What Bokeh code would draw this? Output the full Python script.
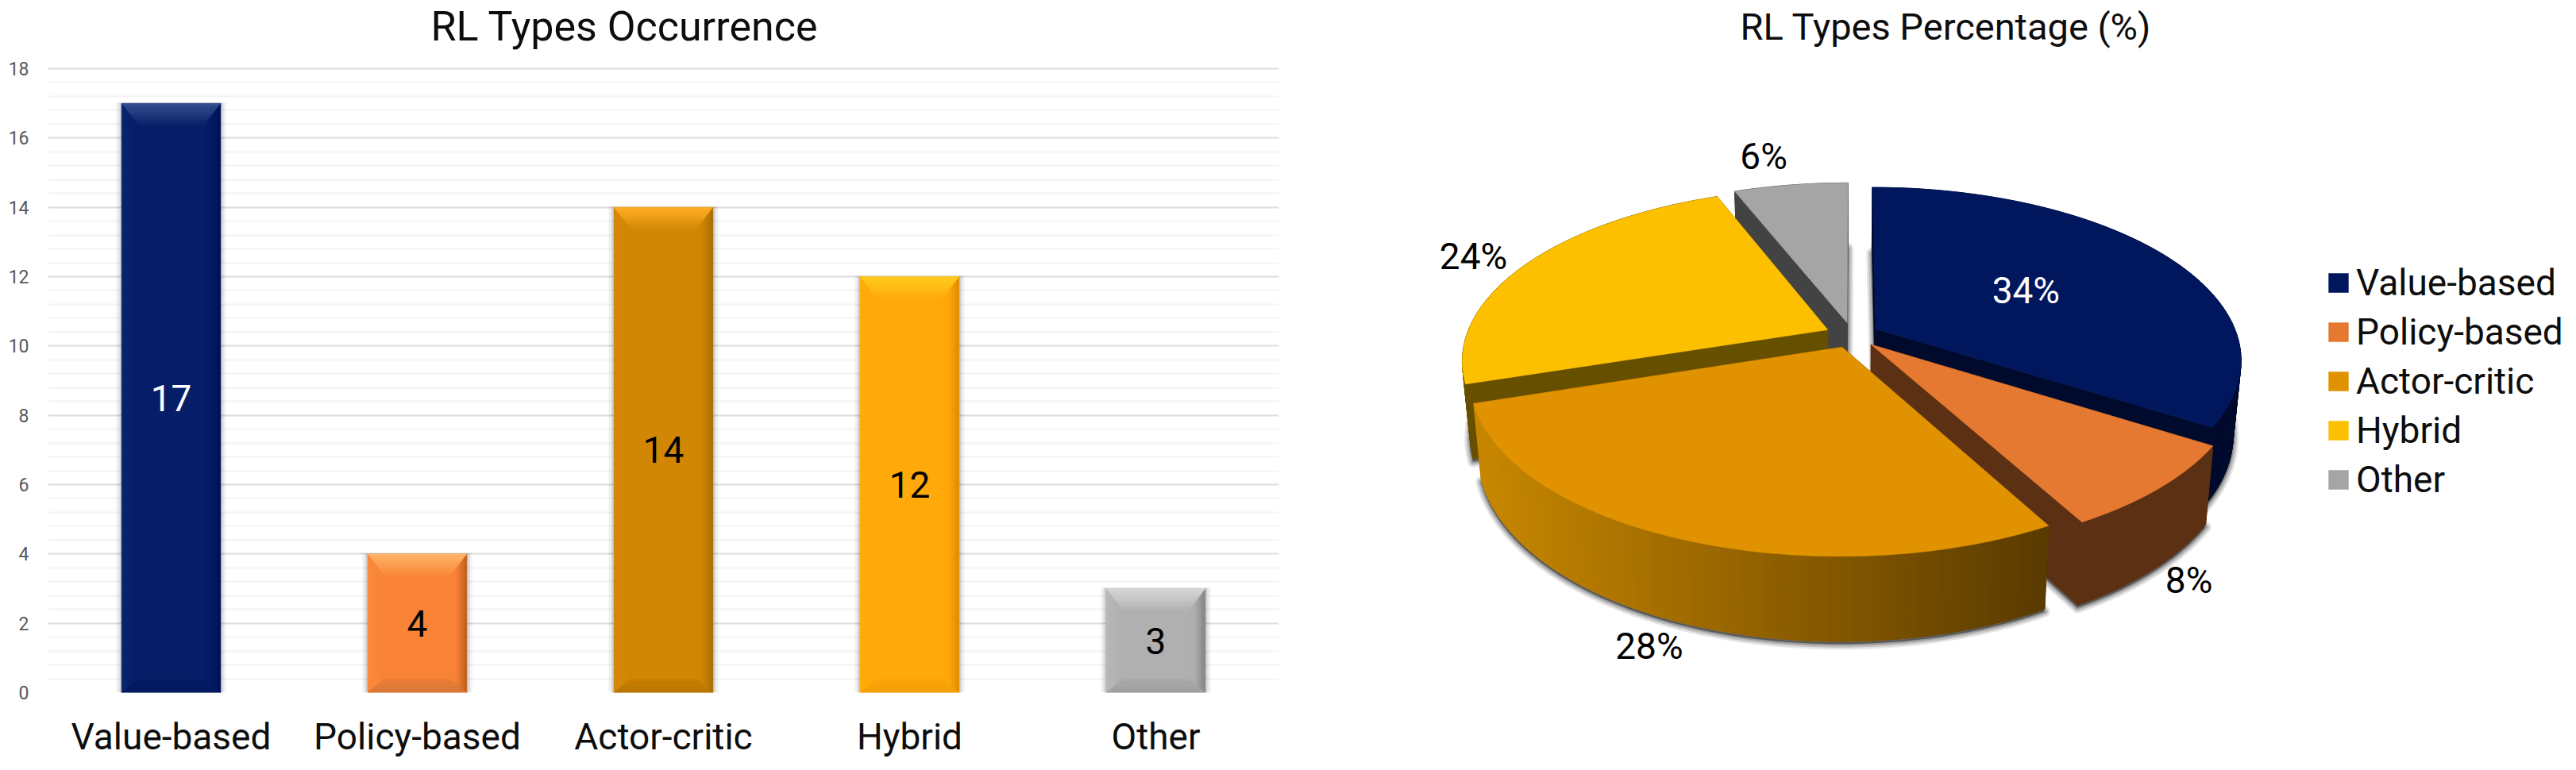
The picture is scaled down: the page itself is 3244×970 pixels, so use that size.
import math
from bokeh.core.properties import value
from bokeh.embed import file_html
from bokeh.layouts import row
from bokeh.models import FactorRange, FixedTicker, Legend, LegendItem, Range1d
from bokeh.plotting import figure
from bokeh.resources import INLINE

# ---- data -------------------------------------------------------------
categories = ["Value-based", "Policy-based", "Actor-critic", "Hybrid", "Other"]
counts = [17, 4, 14, 12, 3]
percentages = [34, 8, 28, 24, 6]
y_ticks = [0, 2, 4, 6, 8, 10, 12, 14, 16, 18]
y_max = 18
title_left = "RL Types Occurrence"
title_right = "RL Types Percentage (%)"

# ---- style ------------------------------------------------------------
FONT = "Roboto"
BIG = "46px"
bar_body = ["#061e68", "#f98437", "#d18604", "#ffa90a", "#b0b0b0"]
bar_top_hi = ["#34508f", "#ffb468", "#ffae24", "#ffcb1e", "#d6d6d6"]
bar_right = ["#001257", "#c0601f", "#a96e00", "#e08c00", "#858585"]
bar_left = ["#0b2570", "#fb8a3c", "#d58a08", "#ffad0c", "#b8b8b8"]
bar_bottom = ["#051a5e", "#d6783a", "#b87700", "#f39f08", "#a0a0a0"]
bar_label_color = ["white", "black", "black", "black", "black"]

pie_top = ["#00175e", "#e57931", "#e09200", "#fcc000", "#a5a5a5"]
pie_radial = ["#000a2c", "#5c3013", "#5a3c00", "#674f00", "#434343"]
pie_outer_start = ["#000a2c", "#5c3013", "#c88700", "#674f00", "#434343"]
pie_outer_end = ["#000a2c", "#5c3013", "#5a3b00", "#674f00", "#434343"]
label_colors = ["white", "black", "black", "black", "black"]
label_theta = [61.1, 147.4, 196.9, 294.0, 347.0]
label_radius = [0.576, 1.38, 1.462, 1.249, 1.334]


def mix(c1, c2, t):
    a = [int(c1[i:i + 2], 16) for i in (1, 3, 5)]
    b = [int(c2[i:i + 2], 16) for i in (1, 3, 5)]
    return "#%02x%02x%02x" % tuple(round(a[i] + (b[i] - a[i]) * t) for i in range(3))


# ---- left: bar chart ----------------------------------------------------
AXIS_T, FRAME_B = 86, 872      # page rows of the value 18 and of the value 0
PAGE_H = 970
TITLE_Y = 33
PX_X = 310.0
PX_Y = (FRAME_B - AXIS_T) / y_max
LEFT_W = 1668
FRAME_L = 60

# the frame reaches the top of the page, so that the title can sit inside it
p1 = figure(
    width=LEFT_W, height=PAGE_H, x_range=FactorRange(factors=categories, range_padding=0),
    y_range=Range1d(0, y_max + AXIS_T / PX_Y), output_backend="svg", toolbar_location=None,
    min_border_left=FRAME_L, min_border_right=58, min_border_top=0, min_border_bottom=PAGE_H - FRAME_B,
)
p1.outline_line_color = None
p1.xaxis.axis_line_color = None
p1.xaxis.major_tick_line_color = None
p1.xaxis.minor_tick_line_color = None
p1.xaxis.major_label_text_font = FONT
p1.xaxis.major_label_text_font_size = BIG
p1.xaxis.major_label_text_color = "#0d0d0d"
p1.xaxis.major_label_standoff = 22
minor_ticks = [t + step * 0.4 for t in y_ticks[:-1] for step in range(1, 5)]
p1.yaxis.ticker = FixedTicker(ticks=y_ticks, minor_ticks=minor_ticks)
p1.yaxis.axis_line_color = None
p1.yaxis.major_tick_line_color = None
p1.yaxis.minor_tick_line_color = None
p1.yaxis.major_label_text_font = FONT
p1.yaxis.major_label_text_font_size = "23px"
p1.yaxis.major_label_text_color = "#595959"
p1.yaxis.major_label_standoff = 18
p1.xgrid.grid_line_color = None
p1.ygrid.grid_line_color = "#dcdcdc"
p1.ygrid.grid_line_width = 2
p1.ygrid.minor_grid_line_color = "#f3f3f3"
p1.ygrid.minor_grid_line_width = 2

p1.text(x=[(542 - FRAME_L) / PX_X], y=[y_max + (AXIS_T - TITLE_Y) / PX_Y], text=[title_left],
        text_font=value(FONT), text_font_size=value("52px"), text_color="#0d0d0d",
        text_align="left", text_baseline="middle")

BAR_W = 124.5 / PX_X
for grow, alpha in ((7, 0.05), (4, 0.07), (2, 0.10)):
    p1.vbar(x=categories, top=[c + grow * 0.2 / PX_Y for c in counts], bottom=0,
            width=BAR_W + 2 * grow / PX_X, fill_color="#000000", fill_alpha=alpha, line_color=None)
p1.vbar(x=categories, top=counts, bottom=0, width=BAR_W, fill_color=bar_body, line_color=None)

xs, ys, cols = [], [], []
STEPS = 10
dx = 21.0 / PX_X
dt = 27.0 / PX_Y
db = 17.0 / PX_Y
for i, c in enumerate(counts):
    cx = i + 0.5
    l, r = cx - BAR_W / 2, cx + BAR_W / 2
    for s in range(STEPS):
        t0, t1 = s / STEPS, (s + 1) / STEPS
        xs.append([r - dx * t0, r - dx * t1, r - dx * t1, r - dx * t0])
        ys.append([db * t0, db * t1, c - dt * t1, c - dt * t0])
        cols.append(mix(bar_right[i], bar_body[i], min(1, t0 * 1.6)))
        xs.append([l + dx * t0, l + dx * t1, l + dx * t1, l + dx * t0])
        ys.append([db * t0, db * t1, c - dt * t1, c - dt * t0])
        cols.append(mix(bar_left[i], bar_body[i], t0))
    for s in range(STEPS):
        t0, t1 = s / STEPS, (s + 1) / STEPS
        xs.append([l + dx * t0, r - dx * t0, r - dx * t1, l + dx * t1])
        ys.append([c - dt * t0, c - dt * t0, c - dt * t1, c - dt * t1])
        cols.append(mix(bar_top_hi[i], bar_body[i], t0 * 0.95))
        xs.append([l + dx * t0, r - dx * t0, r - dx * t1, l + dx * t1])
        ys.append([db * t0, db * t0, db * t1, db * t1])
        cols.append(mix(bar_bottom[i], bar_body[i], t0 * 0.6))
p1.patches(xs, ys, fill_color=cols, line_color=cols, line_width=0.5)
p1.text(x=categories, y=[c / 2 for c in counts], text=[str(c) for c in counts],
        text_color=bar_label_color, text_font=value(FONT), text_font_size=value(BIG),
        text_align="center", text_baseline="middle")

# ---- right: exploded perspective pie ------------------------------------
X0, Y0 = 2332.0, 421.7      # page position of the pie's centre
A, B, K = 455.0, 212.0, 0.174  # projection of the disc
EXPLODE = 0.075
SX, SY, DY = 0.98, 1.059, 91.0  # lower disc relative to the upper one

FIG_L, FIG_R = LEFT_W, 3244
p2 = figure(
    width=FIG_R - FIG_L, height=PAGE_H, x_range=Range1d(FIG_L, FIG_R),
    y_range=Range1d(FRAME_B, 0), output_backend="svg", toolbar_location=None,
    min_border_left=0, min_border_right=0, min_border_top=0, min_border_bottom=PAGE_H - FRAME_B,
)
p2.outline_line_color = None
p2.axis.visible = False
p2.grid.visible = False
p2.text(x=[2191], y=[TITLE_Y], text=[title_right], text_font=value(FONT), text_font_size=value("47px"),
        text_color="#0d0d0d", text_align="left", text_baseline="middle")


def project(u, v):
    d = 1 - K * v
    return X0 + A * u / d, Y0 + B * v / d


def lower(x, y):
    return X0 + SX * (x - X0), Y0 + DY + SY * (y - Y0)


slices = []
start = 0.0
total = sum(percentages)
for i, pct in enumerate(percentages):
    end = start + 360.0 * pct / total
    mid = math.radians((start + end) / 2)
    ou, ov = EXPLODE * math.sin(mid), -EXPLODE * math.cos(mid)
    n = max(8, int(pct * 2.5))
    rim = []
    for s in range(n + 1):
        th = math.radians(start + (end - start) * s / n)
        rim.append(project(ou + math.sin(th), ov - math.cos(th)))
    slices.append(dict(i=i, apex=project(ou, ov), rim=rim, depth=ov))
    start = end

legend_items = [None] * len(categories)
for sl in sorted(slices, key=lambda d: d["depth"]):
    i, apex, rim = sl["i"], sl["apex"], sl["rim"]
    outline = [apex] + rim
    low = [lower(*q) for q in outline]
    for width, alpha in ((14, 0.10), (9, 0.16), (4, 0.22)):
        p2.patch([q[0] for q in low], [q[1] + 3 for q in low], fill_color="#000000", fill_alpha=alpha,
                 line_color="#000000", line_alpha=alpha, line_width=width, line_join="round")
    for edge in (rim[0], rim[-1]):
        quad = [apex, edge, lower(*edge), lower(*apex)]
        p2.patch([q[0] for q in quad], [q[1] for q in quad], fill_color=pie_radial[i],
                 line_color=pie_radial[i], line_width=0.5)
    xl, yl, cl = [], [], []
    span = (1858.0, 2574.0)
    for a, b in zip(rim[:-1], rim[1:]):
        la, lb = lower(*a), lower(*b)
        xl.append([a[0], b[0], lb[0], la[0]])
        yl.append([a[1], b[1], lb[1], la[1]])
        t = min(1, max(0, ((a[0] + b[0]) / 2 - span[0]) / (span[1] - span[0])))
        cl.append(mix(pie_outer_start[i], pie_outer_end[i], t))
    p2.patches(xl, yl, fill_color=cl, line_color=cl, line_width=1)
    r = p2.patch([q[0] for q in outline], [q[1] for q in outline], fill_color=pie_top[i],
                 line_color=pie_top[i], line_width=0.5)
    legend_items[i] = LegendItem(label=categories[i], renderers=[r])

lx, ly = [], []
for th, rad in zip(label_theta, label_radius):
    t = math.radians(th)
    q = project(rad * math.sin(t), -rad * math.cos(t))
    lx.append(q[0])
    ly.append(q[1])
p2.text(x=lx, y=ly, text=[f"{v}%" for v in percentages], text_color=label_colors,
        text_font=value(FONT), text_font_size=value(BIG), text_align="center", text_baseline="middle")

legend = Legend(items=legend_items, location=(2929 - FIG_L, FRAME_B - 635), orientation="vertical",
                glyph_width=31, glyph_height=30, label_standoff=7, spacing=0, padding=0, margin=0,
                label_height=62, label_text_font=FONT, label_text_font_size=BIG,
                label_text_color="#0d0d0d", border_line_color=None, background_fill_alpha=0)
p2.add_layout(legend)

out = row(p1, p2, spacing=0)
open("out.html", "w").write(file_html(out, INLINE))
